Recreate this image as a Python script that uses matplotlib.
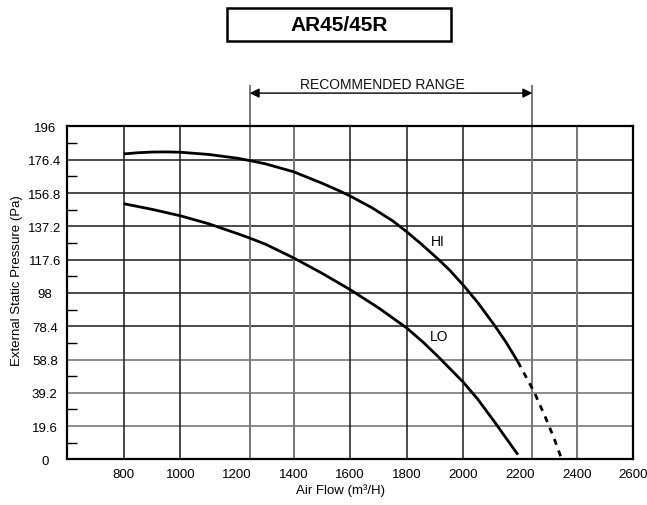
import matplotlib
matplotlib.use("Agg")
import matplotlib.pyplot as plt
from matplotlib.patches import Rectangle
from matplotlib.transforms import blended_transform_factory

plt.rcParams['font.family'] = ['Liberation Sans', 'DejaVu Sans']

# Fan curve data: air flow (m3/H) vs external static pressure (Pa)
hi_flow = [800, 850, 900, 950, 1000, 1100, 1200, 1245, 1300, 1400, 1500, 1560, 1600,
           1677, 1750, 1800, 1850, 1911, 1950, 2000, 2050, 2110, 2150, 2192]
hi_pressure = [179.8, 180.5, 180.9, 181.0, 180.8, 179.5, 177.3, 175.9, 174.0, 169.3,
               162.6, 158.2, 155.0, 148.1, 140.4, 133.9, 126.9, 117.8, 111.6, 102.4,
               92.4, 78.8, 69.0, 57.5]
hi_ext_flow = [2192, 2220, 2250, 2290, 2320, 2347]
hi_ext_pressure = [57.5, 48.8, 39.5, 24.5, 12.3, 0.0]

lo_flow = [800, 900, 1000, 1100, 1200, 1245, 1300, 1350, 1400, 1500, 1600, 1700,
           1800, 1860, 1911, 1950, 2000, 2050, 2110, 2150, 2192]
lo_pressure = [150.5, 147.2, 143.4, 138.7, 133.0, 130.3, 126.7, 122.7, 118.6, 109.6,
               99.9, 89.2, 77.3, 68.6, 60.4, 53.8, 45.3, 35.5, 22.0, 12.6, 2.8]

y_ticks = [0, 19.6, 39.2, 58.8, 78.4, 98, 117.6, 137.2, 156.8, 176.4, 196]
y_tick_labels = ["0", "19.6", "39.2", "58.8", "78.4", "98", "117.6", "137.2", "156.8", "176.4", "196"]
x_ticks = [800, 1000, 1200, 1400, 1600, 1800, 2000, 2200, 2400, 2600]
x_grid_dark = [800, 1000, 1600, 1800, 2000]
x_grid_light = [1400, 2400]
y_grid_light = [19.6, 39.2, 58.8]
range_lo, range_hi = 1245, 2243

fig = plt.figure(figsize=(6.47, 5.06), dpi=100)
ax = fig.add_axes([0.1036, 0.0901, 0.8754, 0.6581])
ax.set_xlim(600, 2600)
ax.set_ylim(0, 196)

# grid
for y in y_ticks[1:-1]:
    c = '#6e6e6e' if y in y_grid_light else '#1a1a1a'
    ax.axhline(y, color=c, lw=1.1, zorder=1)
for x in x_grid_dark:
    ax.axvline(x, color='#1a1a1a', lw=1.1, zorder=1)
for x in x_grid_light:
    ax.axvline(x, color='#777777', lw=1.4, zorder=1)

# recommended range markers
trans = blended_transform_factory(ax.transData, ax.transAxes)
for x in (range_lo, range_hi):
    ax.plot([x, x], [0, 1.122], transform=trans, color='#777777', lw=1.4,
            clip_on=False, zorder=2)
ax.annotate('', xy=(range_lo, 1.100), xytext=(range_hi, 1.100),
            xycoords=trans, textcoords=trans,
            arrowprops=dict(arrowstyle='<|-|>', color='black', lw=1.0,
                            shrinkA=0, shrinkB=0, mutation_scale=14))
ax.text(1712, 1.127, 'RECOMMENDED RANGE', transform=trans,
        ha='center', va='center', fontsize=10, color='#111111')

# curves
ax.plot(hi_flow, hi_pressure, color='black', lw=2.0, zorder=3,
        solid_capstyle='butt', solid_joinstyle='round')
ax.plot(hi_ext_flow, hi_ext_pressure, color='black', lw=2.0, zorder=3,
        linestyle=(0, (2.2, 2.2)))
ax.plot(lo_flow, lo_pressure, color='black', lw=2.0, zorder=3,
        solid_capstyle='butt', solid_joinstyle='round')
ax.text(1909, 128.4, 'HI', fontsize=10, ha='center', va='center')
ax.text(1915, 72.4, 'LO', fontsize=10, ha='center', va='center')

# axes styling
for s in ax.spines.values():
    s.set_linewidth(1.6)
    s.set_color('black')
ax.set_yticks(y_ticks)
ax.set_yticklabels(y_tick_labels)
for lab in ax.get_yticklabels():
    lab.set_horizontalalignment('center')
ax.set_yticks([v + 9.8 for v in y_ticks[:-1]], minor=True)
ax.tick_params(axis='y', which='major', length=0, pad=16, labelsize=9.5)
ax.tick_params(axis='y', which='minor', direction='in', length=7, width=1.0)
ax.set_xticks(x_ticks)
ax.tick_params(axis='x', which='major', length=0, pad=6, labelsize=9.5)

fig.text(340 / 647, 1 - 491 / 506, 'Air Flow (m³/H)', ha='center', va='center',
         fontsize=9.5)
fig.text(17 / 647, 1 - 281 / 506, 'External Static Pressure (Pa)', ha='center',
         va='center', rotation=90, fontsize=9.5)

# title box
fig.patches.append(Rectangle((227 / 647, 1 - 42 / 506), 224 / 647, 33 / 506,
                             transform=fig.transFigure, fill=False,
                             edgecolor='black', lw=1.8))
fig.text(339 / 647, 1 - 25.5 / 506, 'AR45/45R', ha='center', va='center',
         fontsize=15, fontweight='bold')

fig.savefig('out.png', dpi=100)
